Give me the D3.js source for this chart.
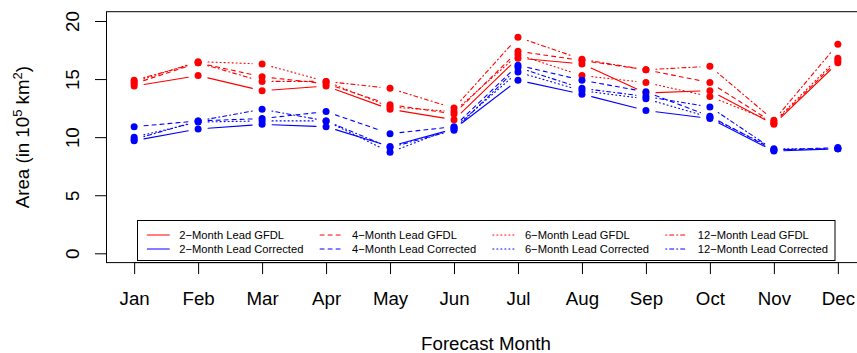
<!DOCTYPE html>
<html>
<head>
<meta charset="utf-8">
<script src="https://cdn.jsdelivr.net/npm/d3@7"></script>
<style>
  body { margin: 0; background: #fff; }
  svg { display: block; }
</style>
</head>
<body>
<svg id="chart" width="857" height="353"></svg>
<script>
// Forecast months (x categories)
const months = ["Jan", "Feb", "Mar", "Apr", "May", "Jun", "Jul", "Aug", "Sep", "Oct", "Nov", "Dec"];

// Forecast area (10^5 km^2) by lead time, raw GFDL model output
const gfdl2  = [14.4, 15.3, 14.0, 14.4, 12.4, 11.5, 16.8, 16.3, 13.8, 14.0, 11.1, 16.4];
const gfdl4  = [14.6, 16.4, 15.2, 14.6, 12.8, 12.0, 17.4, 16.6, 15.8, 14.7, 11.2, 16.6];
const gfdl6  = [14.75, 16.5, 16.3, 14.8, 12.6, 12.2, 17.1, 15.3, 14.7, 13.5, 11.3, 16.8];
const gfdl12 = [14.9, 16.4, 14.8, 14.8, 14.2, 12.5, 18.6, 16.7, 15.8, 16.1, 11.45, 18.0];

// Forecast area (10^5 km^2) by lead time, bias-corrected
const corr2  = [9.7, 10.7, 11.1, 10.9, 9.2, 10.7, 14.9, 13.7, 12.3, 11.6, 8.8, 9.0];
const corr4  = [10.9, 11.4, 11.6, 12.2, 10.3, 10.9, 16.2, 14.9, 13.9, 11.8, 8.9, 9.1];
const corr6  = [10.0, 11.3, 11.4, 11.4, 8.7, 10.8, 15.6, 14.0, 13.3, 11.7, 9.0, 9.0];
const corr12 = [9.8, 11.4, 12.4, 11.4, 9.1, 10.6, 16.0, 14.2, 13.5, 12.6, 8.9, 9.0];

// Axis ticks
const yTicks = [0, 5, 10, 15, 20];

// Series table: label, values, colour and R-style line type
const series = [
  { label: "2\u2212Month Lead GFDL",       values: gfdl2,  color: "#FF0000", dash: null },
  { label: "4\u2212Month Lead GFDL",       values: gfdl4,  color: "#FF0000", dash: "4,4" },
  { label: "6\u2212Month Lead GFDL",       values: gfdl6,  color: "#FF0000", dash: "1,3" },
  { label: "12\u2212Month Lead GFDL",      values: gfdl12, color: "#FF0000", dash: "1,3,4,3" },
  { label: "2\u2212Month Lead Corrected",  values: corr2,  color: "#0000FF", dash: null },
  { label: "4\u2212Month Lead Corrected",  values: corr4,  color: "#0000FF", dash: "4,4" },
  { label: "6\u2212Month Lead Corrected",  values: corr6,  color: "#0000FF", dash: "1,3" },
  { label: "12\u2212Month Lead Corrected", values: corr12, color: "#0000FF", dash: "1,3,4,3" }
];

const FONT = "'Liberation Sans', Arial, Helvetica, sans-serif";
const svg = d3.select("#chart");

// Plot region (R style: 4% padding around the data range)
const box = { left: 106, right: 866, top: 11.7, bottom: 262.6 };
const x = d3.scaleLinear().domain([0.56, 12.44]).range([box.left, box.right]);
const y = d3.scaleLinear().domain([-0.8, 20.8]).range([box.bottom, box.top]);

// Frame
svg.append("rect")
  .attr("x", box.left + 0.5).attr("y", box.top)
  .attr("width", box.right - box.left).attr("height", box.bottom - box.top)
  .attr("fill", "none").attr("stroke", "#000").attr("stroke-width", 1);

// x axis
const xAxis = d3.axisBottom(x)
  .tickValues(d3.range(1, 13))
  .tickFormat(i => months[i - 1])
  .tickSize(11.5)
  .tickSizeOuter(0);
const gx = svg.append("g").attr("transform", `translate(0,${box.bottom})`).call(xAxis);
gx.select(".domain").attr("d", `M${x(1)},0H${x(12)}`).attr("stroke", "#000");
gx.selectAll(".tick line").attr("stroke", "#000");
gx.selectAll(".tick text")
  .attr("y", 42.6).attr("dy", null)
  .attr("fill", "#000")
  .style("font-family", FONT).style("font-size", "18.7px");

// y axis (labels parallel to the axis)
const yAxis = d3.axisLeft(y).tickValues(yTicks).tickSize(11.5).tickSizeOuter(0);
const gy = svg.append("g").attr("transform", `translate(${box.left + 0.5},0)`).call(yAxis);
gy.select(".domain").attr("d", `M0,${y(0)}V${y(20)}`).attr("stroke", "#000");
gy.selectAll(".tick line").attr("stroke", "#000");
gy.selectAll(".tick text")
  .attr("x", 0).attr("y", -28).attr("dy", null)
  .attr("transform", "rotate(-90)")
  .attr("text-anchor", "middle")
  .attr("fill", "#000")
  .style("font-family", FONT).style("font-size", "18.7px");

// Axis titles
svg.append("text")
  .attr("x", (box.left + box.right) / 2).attr("y", 350)
  .attr("text-anchor", "middle")
  .style("font-family", FONT).style("font-size", "18.7px")
  .text("Forecast Month");

const yTitle = svg.append("text")
  .attr("transform", `translate(29,${(box.top + box.bottom) / 2}) rotate(-90)`)
  .attr("text-anchor", "middle")
  .style("font-family", FONT).style("font-size", "18.7px");
yTitle.append("tspan").text("Area (in 10");
yTitle.append("tspan").attr("dy", -7).style("font-size", "13px").text("5");
yTitle.append("tspan").attr("dy", 7).text(" km");
yTitle.append("tspan").attr("dy", -7).style("font-size", "13px").text("2");
yTitle.append("tspan").attr("dy", 7).text(")");

// Lines with a gap around each point (R type = "b"), then the points
const GAP = 10;
const plot = svg.append("g");
series.forEach(s => {
  const pts = s.values.map((v, i) => [x(i + 1), y(v)]);
  const segs = d3.pairs(pts).map(([a, b]) => {
    const dx = b[0] - a[0], dy = b[1] - a[1];
    const len = Math.hypot(dx, dy);
    const ux = dx / len, uy = dy / len;
    return [[a[0] + ux * GAP, a[1] + uy * GAP], [b[0] - ux * GAP, b[1] - uy * GAP]];
  });
  plot.append("g").selectAll("line").data(segs).join("line")
    .attr("x1", d => d[0][0]).attr("y1", d => d[0][1])
    .attr("x2", d => d[1][0]).attr("y2", d => d[1][1])
    .attr("stroke", s.color).attr("stroke-width", 1.1)
    .attr("stroke-linecap", "round")
    .attr("stroke-dasharray", s.dash);
  plot.append("g").selectAll("circle").data(s.values).join("circle")
    .attr("cx", (d, i) => x(i + 1)).attr("cy", d => y(d))
    .attr("r", 3.5).attr("fill", s.color);
});

// Legend
const legend = svg.append("g");
legend.append("rect")
  .attr("x", 137.5).attr("y", 220.5).attr("width", 697.5).attr("height", 40)
  .attr("fill", "#fff").attr("stroke", "#000").attr("stroke-width", 1);
series.forEach((s, k) => {
  const col = k % 4, row = Math.floor(k / 4);
  const lx = 147.3 + col * 172.8, ly = 235 + row * 14;
  legend.append("line")
    .attr("x1", lx).attr("x2", lx + 22).attr("y1", ly).attr("y2", ly)
    .attr("stroke", s.color).attr("stroke-width", 1.1)
    .attr("stroke-linecap", "round")
    .attr("stroke-dasharray", s.dash);
  legend.append("text")
    .attr("x", lx + 32).attr("y", ly).attr("dy", "0.36em")
    .style("font-family", FONT).style("font-size", "11.2px")
    .text(s.label);
});
</script>
</body>
</html>
